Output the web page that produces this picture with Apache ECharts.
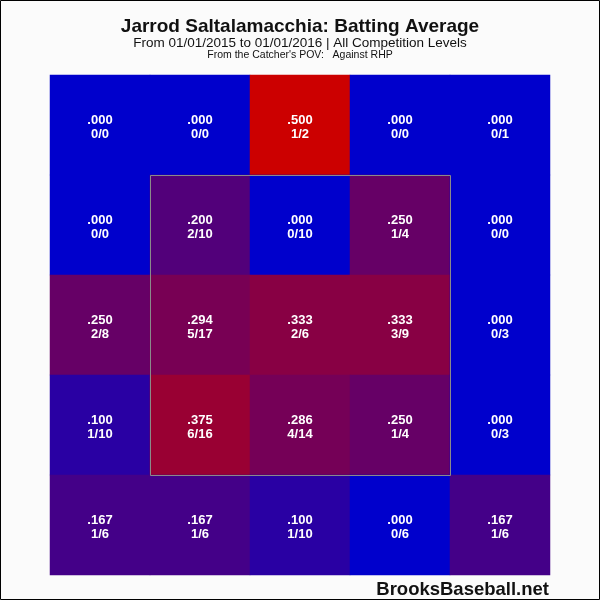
<!DOCTYPE html>
<html><head><meta charset="utf-8">
<script src="https://cdn.jsdelivr.net/npm/echarts@6/dist/echarts.min.js"></script>
<style>html,body{margin:0;padding:0;background:#fff}#c{width:600px;height:600px}</style>
</head><body><div id="c"></div>
<script>
const colsX = ['c0','c1','c2','c3','c4'];
const rowsY = ['r0','r1','r2','r3','r4'];
// rows top to bottom, columns left to right (catcher's POV)
const hits = [
  [0,0,1,0,0],
  [0,2,0,1,0],
  [2,5,2,3,0],
  [1,6,4,1,0],
  [1,1,1,0,1]
];
const atBats = [
  [0,0,2,0,1],
  [0,10,10,4,0],
  [8,17,6,9,3],
  [10,16,14,4,3],
  [6,6,10,6,6]
];
const zoneCols = [1,3];
const zoneRows = [1,3];

const data = [];
for (let r=0;r<5;r++) for (let c=0;c<5;c++){
  const h=hits[r][c], ab=atBats[r][c];
  const avg = ab? h/ab : 0;
  data.push([c, r, avg, h, ab]);
}
function fmt(v){ return v.toFixed(3).replace(/^0/,''); }

const chart = echarts.init(document.getElementById('c'), null, {renderer:'canvas'});
chart.setOption({
  backgroundColor:'#fbfbfb',
  animation:false,
  title:[
    {text:'Jarrod Saltalamacchia: Batting Average', left:'center', top:12,
     textStyle:{fontFamily:'Liberation Sans, Arial', fontSize:19, fontWeight:'bold', color:'#111'}},
    {text:'From 01/01/2015 to 01/01/2016 | All Competition Levels', left:'center', top:31,
     textStyle:{fontFamily:'Liberation Sans, Arial', fontSize:13.5, fontWeight:'normal', color:'#111'}},
    {text:'From the Catcher\'s POV:   Against RHP', left:'center', top:45,
     textStyle:{fontFamily:'Liberation Sans, Arial', fontSize:10.5, fontWeight:'normal', color:'#111'}},
    {text:'BrooksBaseball.net', right:46, top:575,
     textStyle:{fontFamily:'Liberation Sans, Arial', fontSize:18.5, fontWeight:'bold', color:'#111'}}
  ],
  grid:{left:50, top:75, width:500, height:500},
  xAxis:{type:'category', data:colsX, show:false},
  yAxis:{type:'category', data:rowsY, inverse:true, show:false},
  visualMap:{show:false, min:0, max:0.5, dimension:2, seriesIndex:0,
    inRange:{color:['#0000CC','#CC0000']}},
  series:[
    {type:'heatmap', data:data,
     label:{show:true, formatter:p=>fmt(p.data[2])+'\n'+p.data[3]+'/'+p.data[4], offset:[0,2],
       color:'#fff', fontFamily:'Liberation Sans, Arial', fontWeight:'bold', fontSize:13, lineHeight:14},
     itemStyle:{borderWidth:0}},
    {type:'custom', data:[[zoneCols[0],zoneRows[0],zoneCols[1],zoneRows[1]]], z:10, silent:true,
     renderItem:function(params, api){
       const p0 = api.coord([api.value(0), api.value(1)]);
       const p1 = api.coord([api.value(2), api.value(3)]);
       const s = api.size([1,1]);
       const x0 = Math.round(p0[0]-s[0]/2)+0.5, y0=Math.round(p0[1]-s[1]/2)+0.5;
       const x1 = Math.round(p1[0]+s[0]/2)+0.5, y1=Math.round(p1[1]+s[1]/2)+0.5;
       return {type:'rect', shape:{x:x0,y:y0,width:x1-x0,height:y1-y0},
         style:{fill:null, stroke:'#8a8a8a', lineWidth:1}};
     }}
  ],
  graphic:[{type:'rect', shape:{x:0.5,y:0.5,width:599,height:599}, style:{fill:null, stroke:'#000', lineWidth:1}, z:100}]
});
</script></body></html>
